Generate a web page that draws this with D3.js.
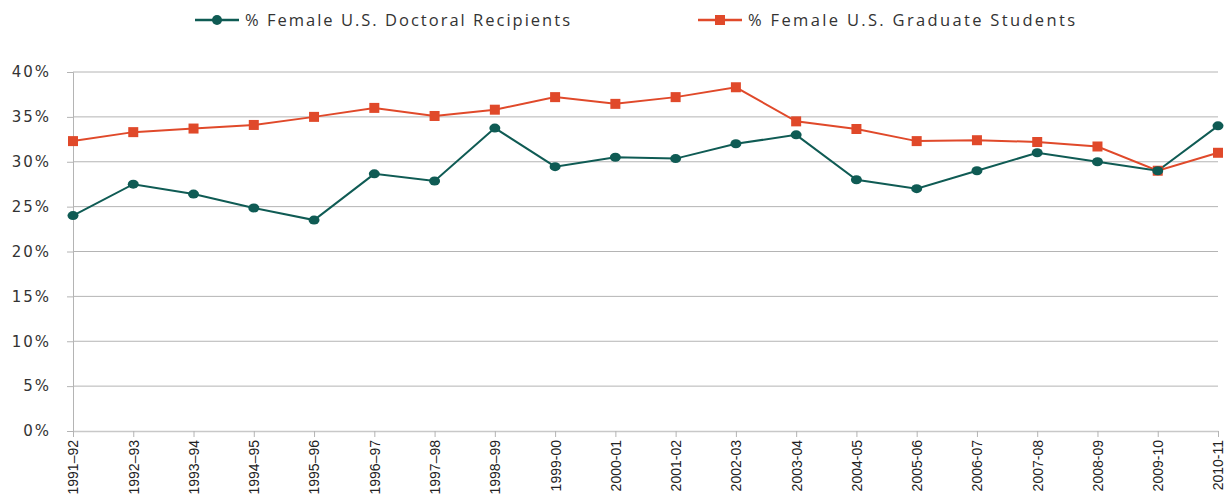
<!DOCTYPE html>
<html><head><meta charset="utf-8">
<script src="https://cdn.jsdelivr.net/npm/d3@7"></script>
<style>body{margin:0;background:#fff}svg{display:block}</style>
</head><body>
<svg id="c" width="1229" height="497"></svg>
<script>
const categories = ["1991–92","1992–93","1993–94","1994–95","1995–96","1996–97","1997–98","1998–99","1999-00","2000-01","2001-02","2002-03","2003-04","2004-05","2005-06","2006-07","2007-08","2008-09","2009-10","2010-11"];
const doctoral = [24.0,27.5,26.4,24.85,23.5,28.65,27.85,33.75,29.45,30.5,30.35,32.0,33.0,28.0,27.0,29.0,31.0,30.0,29.0,34.0];
const graduate = [32.3,33.3,33.7,34.1,35.0,36.0,35.1,35.8,37.2,36.45,37.2,38.3,34.5,33.65,32.3,32.4,32.2,31.7,29.0,31.0];
const yTicks = [0,5,10,15,20,25,30,35,40];
const seriesNames = ["% Female U.S. Doctoral Recipients","% Female U.S. Graduate Students"];
const colors = ["#0f5b54","#e0492a"];

const svg = d3.select("#c");
const L = 73, R = 1218, T = 72, B = 431;
const x = d3.scalePoint().domain(categories).range([L, R]);
const y = d3.scaleLinear().domain([0,40]).range([B, T]);
const font = "'Open Sans', 'DejaVu Sans', sans-serif";

// gridlines
svg.append("g").selectAll("line").data(yTicks.filter(d=>d>0)).join("line")
  .attr("x1", L).attr("x2", R).attr("y1", d=>y(d)).attr("y2", d=>y(d))
  .attr("stroke", "#b4b4b4").attr("stroke-width", 1);

// y axis
const ya = svg.append("g").attr("transform", `translate(${L},0)`)
  .call(d3.axisLeft(y).tickValues(yTicks).tickSize(6).tickPadding(16).tickFormat(d=>d+"%"));
ya.select(".domain").attr("stroke","#b4b4b4");
ya.selectAll(".tick line").attr("stroke","#b4b4b4");
ya.selectAll("text").attr("font-family", "'DejaVu Sans', sans-serif").attr("font-size", 15).attr("fill","#333").attr("letter-spacing","2px");

// x axis
const xa = svg.append("g").attr("transform", `translate(0,${B})`)
  .call(d3.axisBottom(x).tickSize(6).tickSizeOuter(0));
xa.select(".domain").attr("stroke","#c8c8c8").attr("stroke-width",1.5);
xa.selectAll(".tick line").attr("stroke","#b4b4b4");
xa.selectAll(".tick text").attr("font-family", "'Liberation Sans', Arial, sans-serif").attr("font-size", 14).attr("fill","#222")
  .attr("transform","rotate(-90)").attr("text-anchor","end").attr("x",-9).attr("dx",0).attr("dy","0.35em").attr("y",0);

const line = d3.line().x((d,i)=>x(categories[i])).y(d=>y(d));

svg.append("path").datum(graduate).attr("d", line).attr("fill","none").attr("stroke", colors[1]).attr("stroke-width",2);
svg.append("path").datum(doctoral).attr("d", line).attr("fill","none").attr("stroke", colors[0]).attr("stroke-width",2);

svg.append("g").selectAll("rect").data(graduate).join("rect")
  .attr("x",(d,i)=>x(categories[i])-5).attr("y",d=>y(d)-5).attr("width",10).attr("height",10).attr("fill",colors[1]);
svg.append("g").selectAll("ellipse").data(doctoral).join("ellipse")
  .attr("cx",(d,i)=>x(categories[i])).attr("cy",d=>y(d)).attr("rx",5.5).attr("ry",4.5).attr("fill",colors[0]);

// legend
const lg = svg.append("g");
const items = [{x:195, w:325, name:seriesNames[0], c:colors[0], shape:"circle"},{x:698, w:327, name:seriesNames[1], c:colors[1], shape:"square"}];
items.forEach(it=>{
  lg.append("line").attr("x1",it.x).attr("x2",it.x+44).attr("y1",20).attr("y2",20).attr("stroke",it.c).attr("stroke-width",2.5);
  if(it.shape==="circle") lg.append("ellipse").attr("cx",it.x+22).attr("cy",20).attr("rx",5).attr("ry",5).attr("fill",it.c);
  else lg.append("rect").attr("x",it.x+17).attr("y",15).attr("width",10).attr("height",10).attr("fill",it.c);
  lg.append("text").attr("x",it.x+50).attr("y",20).attr("dy","0.35em").attr("font-family",font).attr("font-size",16.5)
    .attr("textLength", it.w).attr("lengthAdjust","spacing")
    .attr("fill","#333").text(it.name);
});
</script>
</body></html>
